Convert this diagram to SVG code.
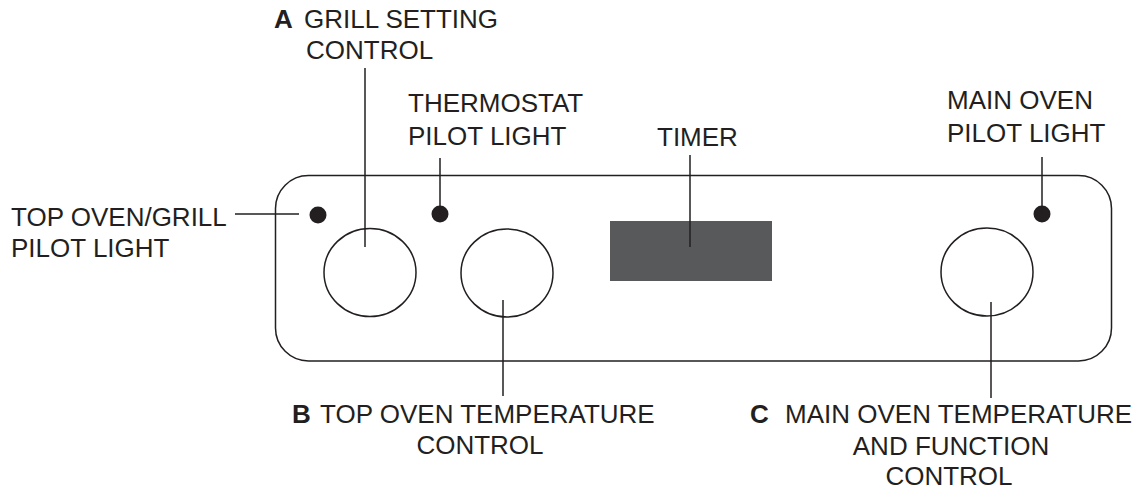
<svg xmlns="http://www.w3.org/2000/svg" width="1141" height="489" viewBox="0 0 1141 489">
<style>
text{font-family:"Liberation Sans",Arial,sans-serif;font-size:26px;fill:#231f20}
.b{font-weight:bold}
.ln{stroke:#231f20;stroke-width:1.5;fill:none}
.knob{fill:none;stroke:#231f20;stroke-width:1.5}
.dot{fill:#231f20}
</style>
<rect width="1141" height="489" fill="#fff"/>
<g id="panel"><rect x="275.5" y="175.5" width="836" height="185.5" rx="33" ry="33" class="ln"/></g>
<g id="timer"><rect x="610" y="221" width="162" height="60" fill="#58595b"/></g>
<g id="light-top"><circle cx="318" cy="215" r="8.5" class="dot"/></g>
<g id="light-thermo"><circle cx="440" cy="214" r="8.5" class="dot"/></g>
<g id="light-main"><circle cx="1042" cy="214" r="8.5" class="dot"/></g>
<g id="knob-a"><ellipse cx="370" cy="272.5" rx="46" ry="44" class="knob"/></g>
<g id="knob-b"><ellipse cx="507" cy="273" rx="46" ry="44" class="knob"/></g>
<g id="knob-c"><ellipse cx="987" cy="272" rx="46" ry="44" class="knob"/></g>
<g id="connectors" class="ln">
<line x1="235" y1="214" x2="299" y2="214"/>
<line x1="365" y1="68" x2="365" y2="247"/>
<line x1="440" y1="158" x2="440" y2="214"/>
<line x1="690" y1="155" x2="690" y2="247"/>
<line x1="1042" y1="157" x2="1042" y2="214"/>
<line x1="503" y1="300" x2="503" y2="396"/>
<line x1="991" y1="302" x2="991" y2="398"/>
</g>
<g id="label-a"><text x="274" y="28" class="b">A</text><text x="304" y="28">GRILL SETTING</text><text x="306" y="59">CONTROL</text></g>
<g id="label-thermo"><text x="408" y="112">THERMOSTAT</text><text x="408" y="145">PILOT LIGHT</text></g>
<g id="label-timer"><text x="657" y="146">TIMER</text></g>
<g id="label-main"><text x="947" y="109">MAIN OVEN</text><text x="947" y="142">PILOT LIGHT</text></g>
<g id="label-top"><text x="11" y="226">TOP OVEN/GRILL</text><text x="11" y="257">PILOT LIGHT</text></g>
<g id="label-b"><text x="292" y="423" class="b">B</text><text x="320" y="423">TOP OVEN TEMPERATURE</text><text x="480" y="454" text-anchor="middle">CONTROL</text></g>
<g id="label-c"><text x="750" y="423" class="b">C</text><text x="785" y="423">MAIN OVEN TEMPERATURE</text><text x="951" y="455" text-anchor="middle">AND FUNCTION</text><text x="949" y="485" text-anchor="middle">CONTROL</text></g>
</svg>
